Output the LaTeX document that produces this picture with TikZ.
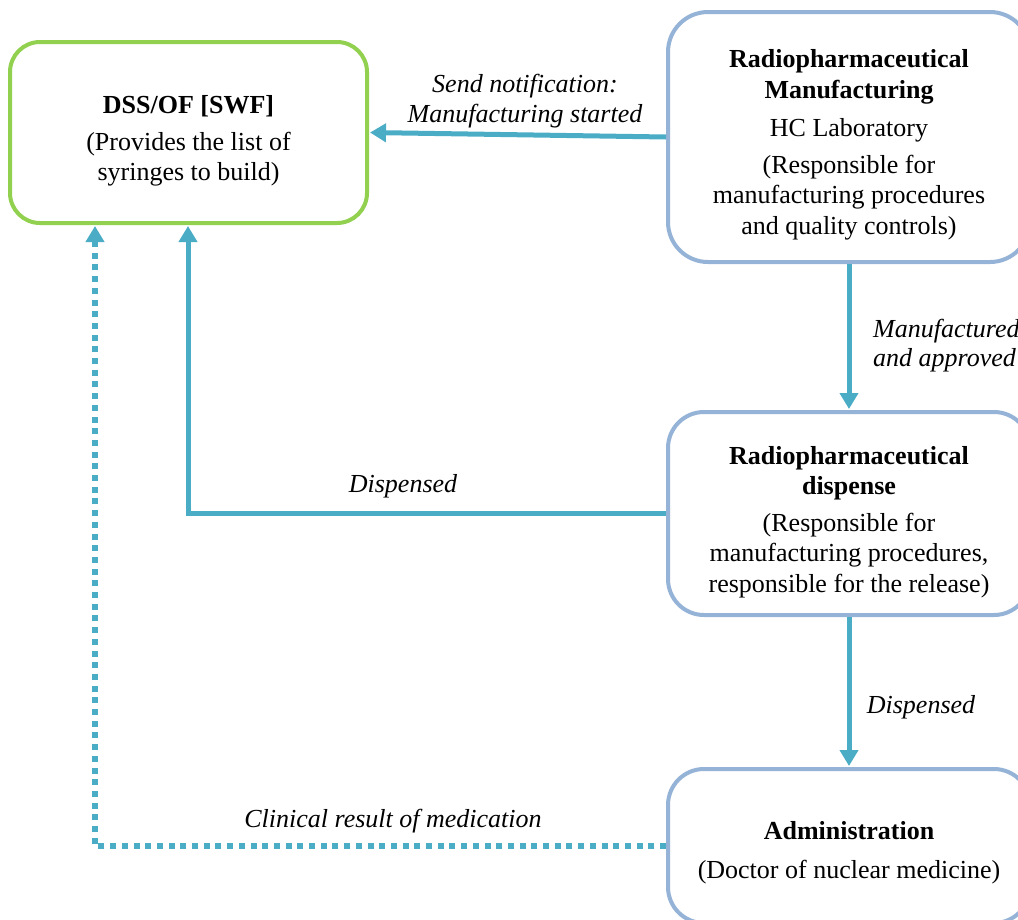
\documentclass[tikz,border=0pt]{standalone}
\usepackage{fontspec}
\setmainfont{Liberation Serif}
\usetikzlibrary{arrows.meta,calc}
\definecolor{boxgreen}{RGB}{146,208,80}
\definecolor{boxblue}{RGB}{149,179,215}
\definecolor{flowteal}{RGB}{75,172,198}
\begin{document}
\begin{tikzpicture}[x=1pt,y=-1pt,
  every node/.style={font=\fontsize{26}{30.5}\selectfont},
  roundbox/.style={draw, line width=4pt, fill=white, inner sep=0pt},
  boxtext/.style={align=center, inner sep=0pt},
  flow/.style={draw=flowteal, line width=5pt, -{Triangle[width=18pt,length=16pt]}},
  dotflow/.style={flow, line width=5.5pt, dash pattern=on 6pt off 5.7pt},
  lbl/.style={font=\fontsize{26}{30}\selectfont\itshape, inner sep=0pt}]
\useasboundingbox (0,0) rectangle (1018,919);

% boxes
\node[roundbox, draw=boxgreen, rounded corners=30pt, minimum width=357pt, minimum height=181pt]
  (dss) at (188.5,132.5) {};
\node[roundbox, draw=boxblue, rounded corners=40pt, minimum width=362pt, minimum height=250pt]
  (manuf) at (849,137) {};
\node[roundbox, draw=boxblue, rounded corners=36pt, minimum width=362pt, minimum height=203pt]
  (disp) at (849,513.5) {};
\node[roundbox, draw=boxblue, rounded corners=36pt, minimum width=362pt, minimum height=154pt]
  (admin) at (849,846) {};

% box texts
\node[boxtext] (dsstext) at ($(dss.center)+(0,8.5)$) {\textbf{DSS/OF [SWF]}\\[6pt]
  (Provides the list of\\ syringes to build)};
\node[boxtext] (manuftext) at ($(manuf.center)+(0,8)$) {\textbf{Radiopharmaceutical}\\ \textbf{Manufacturing}\\[8pt]
  HC Laboratory\\[6pt] (Responsible for\\ manufacturing procedures\\ and quality controls)};
\node[boxtext] (disptext) at ($(disp.center)+(0,8.5)$) {\textbf{Radiopharmaceutical}\\ \textbf{dispense}\\[6pt]
  (Responsible for\\ manufacturing procedures,\\ responsible for the release)};
\node[boxtext] (admintext) at ($(admin.center)+(0,6.5)$) {\textbf{Administration}\\[8pt] (Doctor of nuclear medicine)};

% connectors
\draw[flow, shorten >=1pt] (manuf.west) -- (dss.east);
\draw[flow, shorten >=1pt] (manuf.south) -- (disp.north);
\draw[flow, shorten >=1pt] (disp.south) -- (admin.north);
\coordinate (dturn) at (188,513.5);
\draw[flow, shorten >=1pt] (disp.west) -- (dturn) -- (dturn |- dss.south);
\coordinate (cturn) at (95,846);
\draw[dotflow, shorten >=1pt] (admin.west) -- (cturn) -- (cturn |- dss.south);

% connector labels
\node[lbl] (l1) at (525,86) {Send notification:};
\node[lbl] (l2) at (525,116) {Manufacturing started};
\node[lbl, anchor=west] (l3) at (873,331) {Manufactured};
\node[lbl, anchor=west] (l4) at (873,360) {and approved};
\node[lbl] (l5) at (403,486) {Dispensed};
\node[lbl] (l6) at (921,707) {Dispensed};
\node[lbl] (l7) at (393,821) {Clinical result of medication};
\end{tikzpicture}
\end{document}
